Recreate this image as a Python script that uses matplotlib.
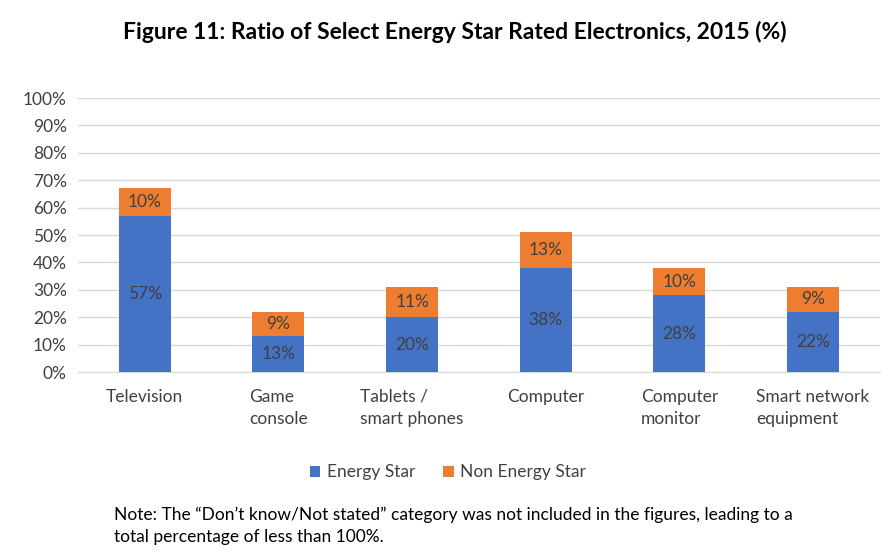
import matplotlib.pyplot as plt
import numpy as np

plt.rcParams['font.family'] = ['Lato', 'DejaVu Sans']

categories = ['Television', 'Game\nconsole', 'Tablets /\nsmart phones', 'Computer',
              'Computer\nmonitor', 'Smart network\nequipment']
energy_star = [57, 13, 20, 38, 28, 22]
non_energy_star = [10, 9, 11, 13, 10, 9]
yticks = [0, 10, 20, 30, 40, 50, 60, 70, 80, 90, 100]

blue = '#4472C4'
orange = '#ED7D31'
txt = '#404040'
fs = 12.5

fig = plt.figure(figsize=(8.96, 5.57), dpi=100)
ax = fig.add_axes([0.087, 0.332, 0.895, 0.492])

x = np.arange(len(categories))
b1 = ax.bar(x, energy_star, width=0.39, color=blue, label='Energy Star', zorder=3)
b2 = ax.bar(x, non_energy_star, width=0.39, bottom=energy_star, color=orange,
            label='Non Energy Star', zorder=3)

for i in range(len(categories)):
    ax.text(x[i], energy_star[i] / 2, '%d%%' % energy_star[i], ha='center', va='center',
            fontsize=fs, color=txt, zorder=4)
    ax.text(x[i], energy_star[i] + non_energy_star[i] / 2, '%d%%' % non_energy_star[i],
            ha='center', va='center', fontsize=fs, color=txt, zorder=4)

ax.set_xlim(-0.5, len(categories) - 0.5)
ax.set_ylim(0, 100)
ax.set_yticks(yticks)
ax.set_yticklabels(['%d%%' % v for v in yticks], fontsize=fs, color=txt)
ax.set_xticks(x)
ax.set_xticklabels(categories, fontsize=fs, color=txt, va='top', ha='center',
                   multialignment='left', linespacing=1.5)
ax.tick_params(axis='both', length=0)
ax.tick_params(axis='x', pad=12)
ax.tick_params(axis='y', pad=8)
ax.grid(axis='y', color='#D9D9D9', linewidth=1, zorder=0)
for s in ['top', 'right', 'left']:
    ax.spines[s].set_visible(False)
ax.spines['bottom'].set_color('#D9D9D9')

fig.text(0.508, 0.942, 'Figure 11: Ratio of Select Energy Star Rated Electronics, 2015 (%)',
         ha='center', va='center', fontsize=16.5, fontweight='bold', color='black')

fig.legend(handles=[b1, b2], loc='center', bbox_to_anchor=(0.5, 0.152), ncol=2,
           frameon=False, fontsize=fs, handlelength=0.6, handleheight=0.6,
           columnspacing=1.6, handletextpad=0.4, labelcolor=txt)

fig.text(0.127, 0.056,
         'Note: The \u201cDon\u2019t know/Not stated\u201d category was not included in the figures, leading to a\n'
         'total percentage of less than 100%.',
         ha='left', va='center', fontsize=fs, color='black', linespacing=1.5)

fig.savefig('out.png', dpi=100)
